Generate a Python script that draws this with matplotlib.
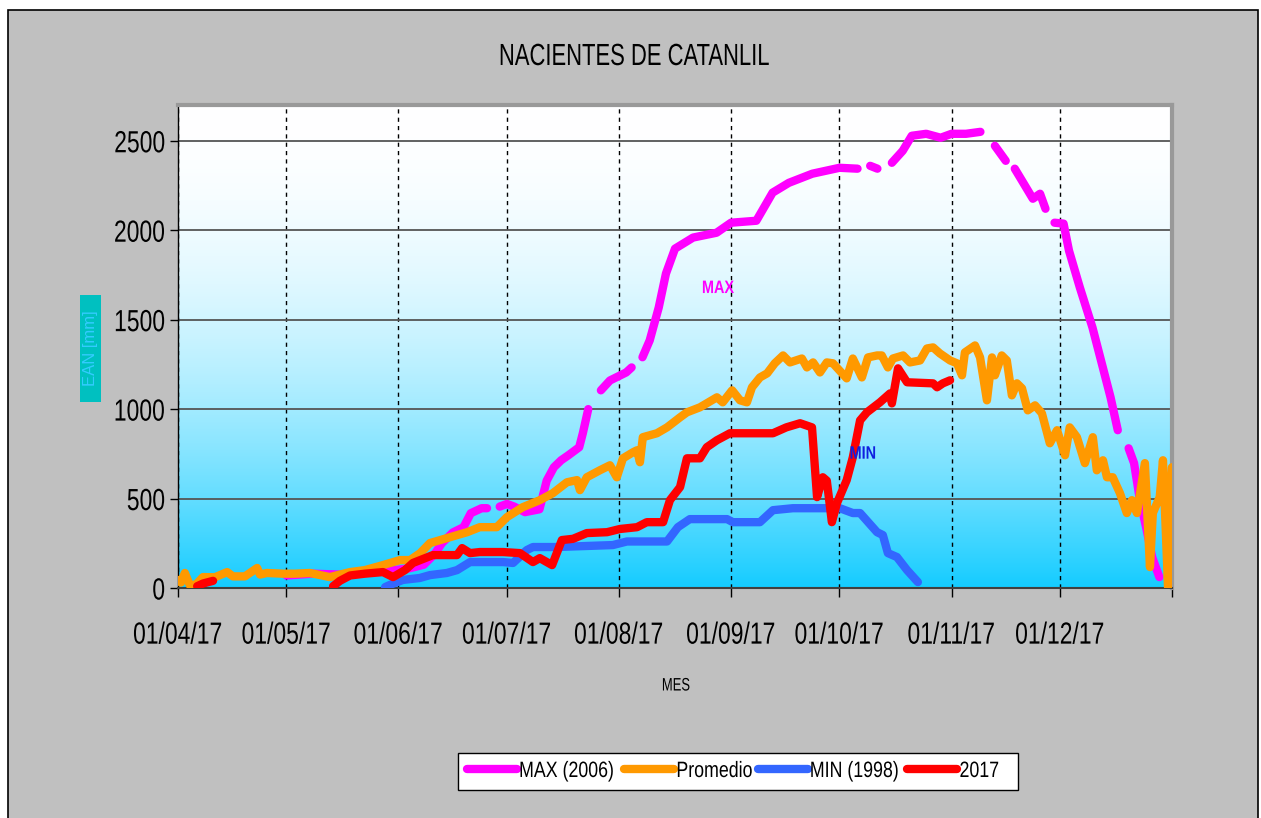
import numpy as np
import pandas as pd
import matplotlib
matplotlib.use("Agg")
import matplotlib.pyplot as plt
from matplotlib.patches import Rectangle
from matplotlib.patheffects import AbstractPathEffect
from matplotlib.transforms import Affine2D

plt.rcParams['font.family'] = ['Liberation Sans', 'DejaVu Sans']

nan = np.nan
start = pd.Timestamp("2017-04-01")

# days since 01/04/17 and EAN [mm] (nan = missing days)
max_days = [30, 37, 45, 52, 58, 64, 68, 71, 73, 76, 79, 81, 84, 85.5, 87, 89, 91, 93, 96, 100,
            102, 104, 106, 108, 111, 112, 113.5, 115, 117, 119.5, 124, 125.5, 127, 128.5, 130.5,
            133, 135, 137.5, 142.5, 149, 153, 160, 164.5, 169, 175.5, 183, 188, 190, 191.5, 193.5,
            195.5, 197.5, 200.5, 203, 207, 211, 214, 218, 222, 224, 226, 229, 230, 231.5, 233.5,
            236.5, 238.5, 240, 241, 242.5, 245, 246.5, 249.5, 253, 258, 260, 261.5, 263, 264.5,
            266, 268, 269.5, 271.5]
max_vals = [70, 80, 75, 85, 95, 110, 130, 190, 250, 310, 340, 418, 446, 446, nan, 455, 470, 455,
            424, 440, 600, 675, 714, 742, 787, 865, 1000, nan, 1105, 1160, 1205, 1233, nan, 1290,
            1384, 1568, 1758, 1897, 1959, 1986, 2042, 2053, 2210, 2265, 2316, 2349, 2344, nan, 2360,
            2344, nan, 2377, 2444, 2528, 2539, 2517, 2539, 2539, 2550, nan, 2472, 2388, nan, 2344,
            2277, 2176, 2204, 2120, nan, 2042, 2037, 1886, 1680, 1456, 1066, 882, nan, 781, 698,
            508, 324, 173, 61]

prom_days = [0, 0.8, 1.9, 3.3, 5, 6.9, 10.2, 13.6, 15.2, 18.5, 21.9, 22.7, 24.6, 29, 32.4, 36.5,
             42, 47.6, 51.7, 56.7, 61.4, 64.2, 67, 69.7, 74.4, 80, 83.5, 88.2, 91, 95.4, 100.1,
             103.7, 107.6, 110.4, 111.2, 113.1, 116.7, 119.5, 121.4, 123.1, 125.9, 127, 127.8,
             128.6, 132.5, 135.3, 138.9, 140.8, 144.4, 149.1, 150.7, 153.3, 155.5, 157.4, 158.8,
             161, 163, 165.1, 167.4, 169.3, 172.6, 174, 175.7, 177.6, 179.5, 181.2, 185, 186.7,
             189.2, 190.9, 193.4, 194.7, 196.4, 197.8, 200.6, 202.5, 205.3, 207.2, 208.9, 210.8,
             213.6, 215.5, 216.9, 217.7, 220.5, 221.9, 223.8, 225.2, 226, 227.9, 229.3, 230.7,
             232.1, 233.5, 235.1, 237.1, 239, 241.2, 243.2, 245.4, 246.7, 248.7, 250.9, 253.1,
             254.2, 255.9, 257, 258.6, 260.6, 262.5, 263.9, 265.3, 267.5, 268.9, 269.7, 271.6,
             272.5, 273.9, 275]
prom_vals = [45, 30, 84, 15, 20, 61, 60, 89, 65, 65, 112, 75, 84, 80, 80, 84,
             61, 89, 100, 128, 156, 156, 195, 251, 279, 312, 340, 340, 396, 452, 491,
             530, 591, 603, 547, 619, 658, 686, 619, 725, 759, 770, 703,
             843, 865, 898, 954, 982, 1010, 1066, 1038, 1105, 1049, 1038, 1122,
             1177, 1200, 1256, 1300, 1261, 1283, 1233, 1261, 1205, 1261, 1256, 1172, 1283,
             1177, 1289, 1300, 1300, 1233, 1283, 1300, 1261, 1272, 1339, 1345, 1311,
             1272, 1256, 1189, 1317, 1356, 1289, 1049, 1289, 1189, 1300, 1272, 1077,
             1144, 1116, 993, 1021, 977, 809, 882, 742, 898, 843, 698, 843,
             658, 714, 619, 619, 530, 419, 491, 419, 698, 117, 419, 508,
             714, 5, 675]

min_days = [57.3, 58.6, 62.2, 66.9, 69.7, 74.4, 77.2, 80.8, 89.9, 92.7, 96.5, 98.2, 104.8,
            120.3, 124.2, 135.3, 138.3, 141.6, 151.9, 153.5, 161, 164.6, 170.1, 183.1, 186.7,
            188.7, 193.4, 195, 196.4, 198.9, 201.7, 204.7]
min_vals = [5, 17, 45, 56, 72, 84, 100, 145, 145, 140, 212, 229, 229,
            240, 260, 260, 340, 385, 385, 368, 368, 435, 446, 446, 419,
            419, 312, 296, 195, 173, 100, 33]

y2017_days = [5.3, 6.9, 9.7, 26, 42.9, 44.8, 47.6, 51.7, 56.7, 59.5, 62.8, 65, 70.5, 77.2, 78.6,
              80.8, 83.5, 89.9, 94.6, 98.2, 100.1, 103.5, 106.2, 109.3, 113.1, 118.7, 122.3, 127,
              129.7, 134.2, 136.1, 138.9, 140.8, 144.4, 146.3, 149.1, 152.7, 164.6, 168.3, 172.1,
              175.4, 176.8, 178.4, 179.5, 180.9, 182.3, 185, 186.7, 188.7, 190.6, 194.2, 197,
              197.5, 199.2, 201.7, 208.9, 210, 211.6, 213.6]
y2017_vals = [10, 25, 40, nan, 10, 40, 70, 80, 89, 61, 100, 140, 184, 184, 223,
              195, 201, 201, 195, 145, 167, 128, 268, 275, 307, 312, 330, 340,
              368, 368, 491, 564, 725, 725, 787, 826, 865, 865, 898, 921,
              898, 508, 619, 600, 368, 474, 603, 731, 937, 982, 1038, 1088,
              1032, 1228, 1150, 1144, 1122, 1144, 1161]

tick_dates = pd.date_range("2017-04-01", "2018-01-01", freq="MS")
tick_labels = ["01/04/17", "01/05/17", "01/06/17", "01/07/17", "01/08/17",
               "01/09/17", "01/10/17", "01/11/17", "01/12/17", ""]


def to_dates(days):
    return start + pd.to_timedelta(np.array(days), unit="D")


class Condense(AbstractPathEffect):
    """squeeze text horizontally, like the narrow font of the original"""

    def __init__(self, sx=0.72, anchor="center"):
        super().__init__()
        self.sx = sx
        self.anchor = anchor

    def draw_path(self, renderer, gc, tpath, affine, rgbFace=None):
        xs = tpath.vertices[:, 0]
        if len(xs) == 0:
            return
        if self.anchor == "left":
            x0 = xs.min()
        elif self.anchor == "right":
            x0 = xs.max()
        else:
            x0 = (xs.min() + xs.max()) / 2
        t = Affine2D().translate(-x0, 0).scale(self.sx, 1).translate(x0, 0) + affine
        renderer.draw_path(gc, tpath, t, rgbFace)


W, H = 1261, 818
fig = plt.figure(figsize=(W / 100, H / 100), dpi=100, facecolor="white")
fig.patches.append(Rectangle((8 / W, -0.01), 1250 / W, 1 - 10 / H + 0.01, transform=fig.transFigure,
                             facecolor="#c0c0c0", edgecolor="black", lw=1.2, zorder=-5))

ax = fig.add_axes([178 / W, 1 - 588 / H, (1172 - 178) / W, (588 - 105) / H])

# white -> cyan background gradient
f = np.linspace(0, 1, 256) ** 2
top = np.array([1.0, 1.0, 1.0])
bot = np.array([0.08, 0.80, 1.0])
grad = (top[None, :] * (1 - f[:, None]) + bot[None, :] * f[:, None])[:, None, :]
ax.imshow(grad, extent=[0, 1, 0, 1], transform=ax.transAxes, aspect="auto", zorder=0)

lw = 6
style = dict(lw=lw, solid_capstyle="round", solid_joinstyle="round")
ax.plot(to_dates(max_days), max_vals, color="#ff00ff", label="MAX (2006)", zorder=3, **style)
ax.plot(to_dates(prom_days), prom_vals, color="#ff9900", label="Promedio", zorder=4, **style)
ax.plot(to_dates(min_days), min_vals, color="#3366ff", label="MIN (1998)", zorder=5, **style)
ax.plot(to_dates(y2017_days), y2017_vals, color="#ff0000", label="2017", zorder=6, **style)

ax.text(start + pd.Timedelta(days=149.4), 1674, "MAX", color="#ff00ff", fontsize=13,
        fontweight="bold", ha="center", va="center", zorder=7, path_effects=[Condense(0.8)])
ax.text(start + pd.Timedelta(days=189.5), 748, "MIN", color="#1020e0", fontsize=13,
        fontweight="bold", ha="center", va="center", zorder=7, path_effects=[Condense(0.8)])

ax.set_xlim(tick_dates[0], tick_dates[-1])
ax.set_ylim(0, 2700)
ax.set_yticks([0, 500, 1000, 1500, 2000, 2500])
ax.set_xticks(tick_dates)
ax.set_xticklabels(tick_labels)
ax.tick_params(axis="y", direction="out", length=6, width=1, labelsize=22, pad=3)
ax.tick_params(axis="x", direction="out", length=6.5, width=1, labelsize=22, pad=17)
for lab in ax.get_xticklabels():
    lab.set_path_effects([Condense(0.75, "center")])
for lab in ax.get_yticklabels():
    lab.set_path_effects([Condense(0.75, "right")])

ax.yaxis.grid(True, color="#555555", lw=1.3, ls="-", zorder=1)
ax.xaxis.grid(True, color="black", lw=1, ls=(0, (3, 3)), zorder=1)

ax.spines["left"].set_color("black")
ax.spines["left"].set_linewidth(1)
ax.spines["bottom"].set_color("#404040")
ax.spines["bottom"].set_linewidth(1.5)
for s in ("top", "right"):
    ax.spines[s].set_color("#999999")
    ax.spines[s].set_linewidth(3)

fig.text(634 / W, 1 - 57 / H, "NACIENTES DE CATANLIL", fontsize=22, ha="center", va="center",
         path_effects=[Condense(0.72)])
fig.text(676 / W, 1 - 686 / H, "MES", fontsize=13, ha="center", va="center",
         path_effects=[Condense(0.72)])

# y label in its teal box
fig.patches.append(Rectangle((80 / W, 1 - 402 / H), 21 / W, 107 / H, transform=fig.transFigure,
                             facecolor="#00c0c0", edgecolor="none", zorder=1))
fig.text(90.5 / W, 1 - 348.5 / H, "EAN [mm]", rotation=90, fontsize=12, color="#33ccff",
         ha="center", va="center", zorder=2)

leg = fig.legend(loc="center", bbox_to_anchor=(738 / W, 1 - 771.5 / H), ncol=4,
                 fontsize=16, frameon=True, fancybox=False, edgecolor="black",
                 facecolor="white", framealpha=1,
                 handlelength=2.25, handletextpad=0.1, columnspacing=-0.62,
                 borderpad=0.38, borderaxespad=0)
leg.get_frame().set_linewidth(1)
for t in leg.get_texts():
    t.set_path_effects([Condense(0.8, "left")])

fig.savefig("out.png", dpi=100, facecolor=fig.get_facecolor())
